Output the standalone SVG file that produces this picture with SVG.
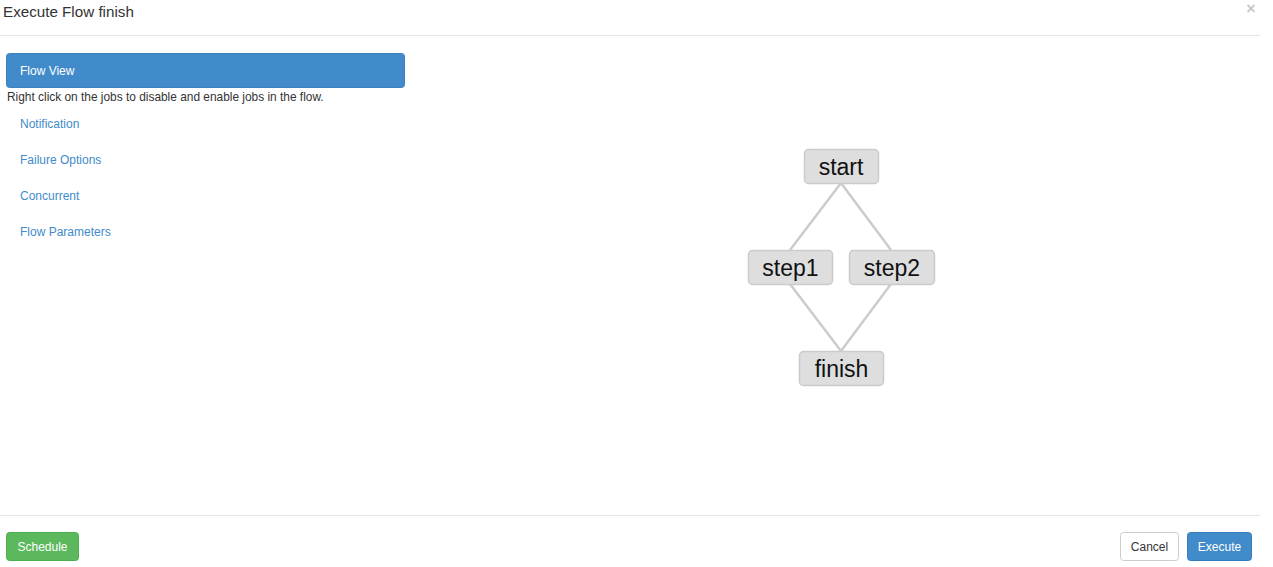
<svg xmlns="http://www.w3.org/2000/svg" width="1273" height="567" viewBox="0 0 1273 567">
<style>
text{font-family:"Liberation Sans",Arial,sans-serif}
.node rect{fill:#dedede;stroke:#cbcbcb;stroke-width:1.5}
.node text{font-size:23px;fill:#111;text-anchor:middle}
.edge{stroke:#cccccc;stroke-width:2.5;fill:none}
.nav{font-size:12px;fill:#428bca}
.btn{font-size:12px}
</style>
<rect width="1273" height="567" fill="#ffffff"/>
<text x="3" y="17" font-size="15.2" fill="#333">Execute Flow finish</text>
<text x="1251" y="14" font-size="16" fill="#c8c8c8" text-anchor="middle" font-weight="bold">×</text>
<line x1="0" y1="35.5" x2="1260" y2="35.5" stroke="#e5e5e5" stroke-width="1"/>
<rect x="6.5" y="53.5" width="398" height="34" rx="3" fill="#428bca" stroke="#3b80c0"/>
<text x="20" y="75" font-size="12" fill="#ffffff">Flow View</text>
<text x="7" y="101" font-size="11.9" fill="#333">Right click on the jobs to disable and enable jobs in the flow.</text>
<text class="nav" x="20" y="128">Notification</text>
<text class="nav" x="20" y="164">Failure Options</text>
<text class="nav" x="20" y="200">Concurrent</text>
<text class="nav" x="20" y="236">Flow Parameters</text>
<g id="connectors">
<line class="edge" x1="841" y1="183" x2="790" y2="250"/>
<line class="edge" x1="841" y1="183" x2="891" y2="250"/>
<line class="edge" x1="790" y1="284" x2="841" y2="351"/>
<line class="edge" x1="891" y1="284" x2="841" y2="351"/>
</g>
<g id="start" class="node"><rect x="804.5" y="149.5" width="74" height="34" rx="4"/><text x="841" y="174.5">start</text></g>
<g id="step1" class="node"><rect x="748.5" y="250.5" width="84" height="34" rx="4"/><text x="790.5" y="275.5">step1</text></g>
<g id="step2" class="node"><rect x="849.5" y="250.5" width="85" height="34" rx="4"/><text x="892" y="275.5">step2</text></g>
<g id="finish" class="node"><rect x="799.5" y="351.5" width="84" height="34" rx="4"/><text x="841.5" y="376.5">finish</text></g>
<line x1="0" y1="515.5" x2="1260" y2="515.5" stroke="#e5e5e5" stroke-width="1"/>
<rect x="6.5" y="532.5" width="72" height="28" rx="3" fill="#5cb85c" stroke="#4cae4c"/>
<text class="btn" x="42.5" y="551" fill="#fff" text-anchor="middle">Schedule</text>
<rect x="1120.5" y="532.5" width="58" height="28" rx="3" fill="#fff" stroke="#cccccc"/>
<text class="btn" x="1149.5" y="551" fill="#333" text-anchor="middle">Cancel</text>
<rect x="1187.5" y="532.5" width="64" height="28" rx="3" fill="#428bca" stroke="#357ebd"/>
<text class="btn" x="1219.5" y="551" fill="#fff" text-anchor="middle">Execute</text>
</svg>
